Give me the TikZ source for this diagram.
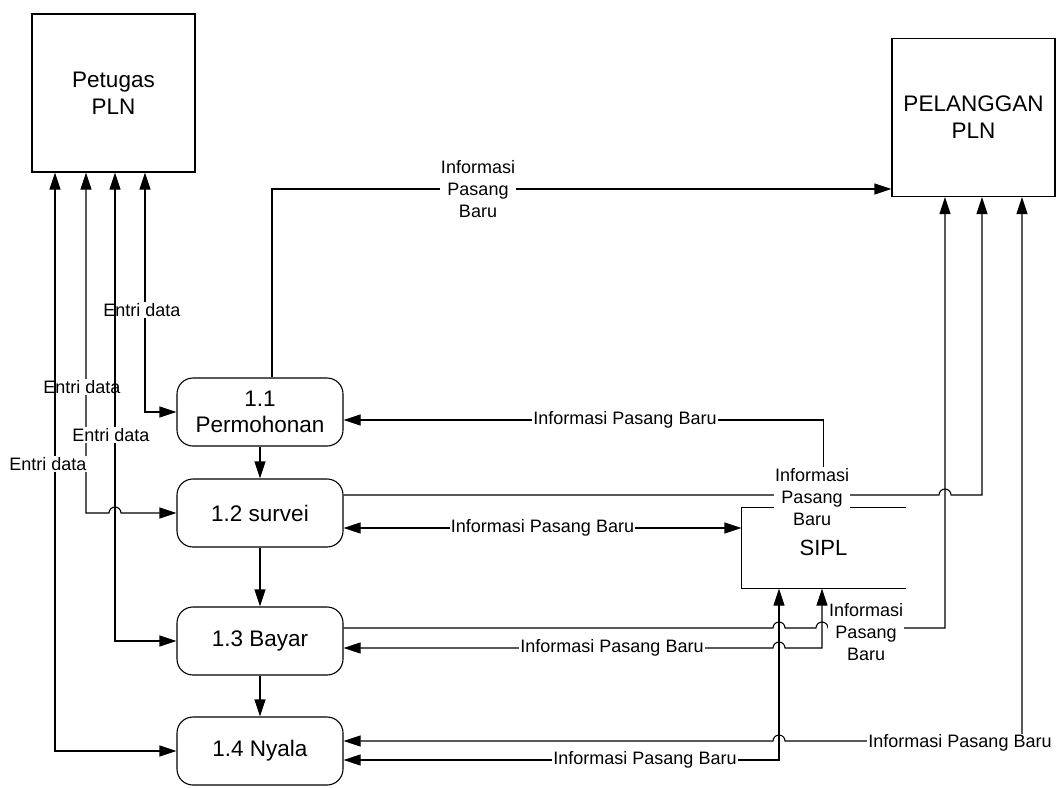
\documentclass[tikz,border=0pt]{standalone}
\usepackage{fontspec}
\setmainfont{Liberation Sans}
\usetikzlibrary{arrows.meta}

\begin{document}
\begin{tikzpicture}[x=1pt,y=-1pt,line width=1.1pt,
    >={Triangle[length=17pt,width=11pt]},
    ent/.style={draw,minimum width=163pt,minimum height=158pt,align=center,
      font=\fontsize{22.5}{27}\selectfont},
    proc/.style={draw,rounded corners=16pt,minimum width=166pt,minimum height=68pt,
      align=center,font=\fontsize{22.5}{26}\selectfont},
    lbl/.style={fill=white,inner sep=1pt,align=center,font=\fontsize{18}{22}\selectfont}]
\useasboundingbox (0,0) rectangle (1056,787);

% external entities
\node[ent] (pet) at (113.5,93) {Petugas\\PLN};
\node[ent] (pel) at (973.5,117.5) {PELANGGAN\\PLN};

% processes
\node[proc] (p11) at (260,412) {1.1\\Permohonan};
\node[proc] (p12) at (260,513) {1.2 survei};
\node[proc] (p13) at (260,641) {1.3 Bayar};
\node[proc] (p14) at (260,751) {1.4 Nyala};

% data store
\node[minimum width=163pt,minimum height=80pt,font=\fontsize{22}{26}\selectfont] (sipl) at (823.5,548) {SIPL};
\draw (sipl.north east) -- (sipl.north west) -- (sipl.south west) -- (sipl.south east);

% entri data
\draw[<->] ([xshift=31.5]pet.south) |- (p11) node[lbl] at (142,310) {Entri data};
\draw[<->] ([xshift=-27.5]pet.south) -- (86,513) -- (109,513)
  arc[start angle=180,end angle=360,radius=6] -- (p12) node[lbl] at (82,387) {Entri data};
\draw[<->] ([xshift=1.5]pet.south) |- (p13) node[lbl] at (111,435) {Entri data};
\draw[<->] ([xshift=-58.5]pet.south) |- (p14) node[lbl] at (48,464) {Entri data};

\foreach \a/\b in {p11/p12,p12/p13,p13/p14}
  \draw[->] (\a) -- (\b);

% informasi pasang baru
\draw[->] ([xshift=12]p11.north) |- ([yshift=-71.5]pel.west)
  node[lbl] at (478,189) {Informasi\\Pasang\\Baru};
\draw[->] (sipl.north) |- ([yshift=-8]p11.east)
  node[lbl] at (625,420) {Informasi Pasang Baru};
\draw[->] ([yshift=18]p12.east) -- (939,495)
  arc[start angle=180,end angle=360,radius=6] -| ([xshift=8.5]pel.south)
  node[lbl] at (812,497) {Informasi\\Pasang\\Baru};
\draw[<->] ([yshift=-15]p12.east) -- node[lbl] {Informasi Pasang Baru} ([yshift=20]sipl.west);
\draw[->] ([yshift=13]p13.east) -- (773,628)
  arc[start angle=180,end angle=360,radius=6] -- (816,628)
  arc[start angle=180,end angle=360,radius=6] -| ([xshift=-28.5]pel.south)
  node[lbl] at (866,632) {Informasi\\Pasang\\Baru};
\draw[<->] ([xshift=-1.5]sipl.south) -- (822,648) -- (785,648)
  arc[start angle=0,end angle=-180,radius=6] -- ([yshift=-7]p13.east)
  node[lbl] at (612,648) {Informasi Pasang Baru};
\draw[<->] ([yshift=10]p14.east) -- (773,741)
  arc[start angle=180,end angle=360,radius=6] -| ([xshift=48.5]pel.south)
  node[lbl] at (960,743) {Informasi Pasang Baru};
\draw[<->] ([xshift=-44.5]sipl.south) |- ([yshift=-9]p14.east)
  node[lbl] at (645,760) {Informasi Pasang Baru};
\end{tikzpicture}
\end{document}
